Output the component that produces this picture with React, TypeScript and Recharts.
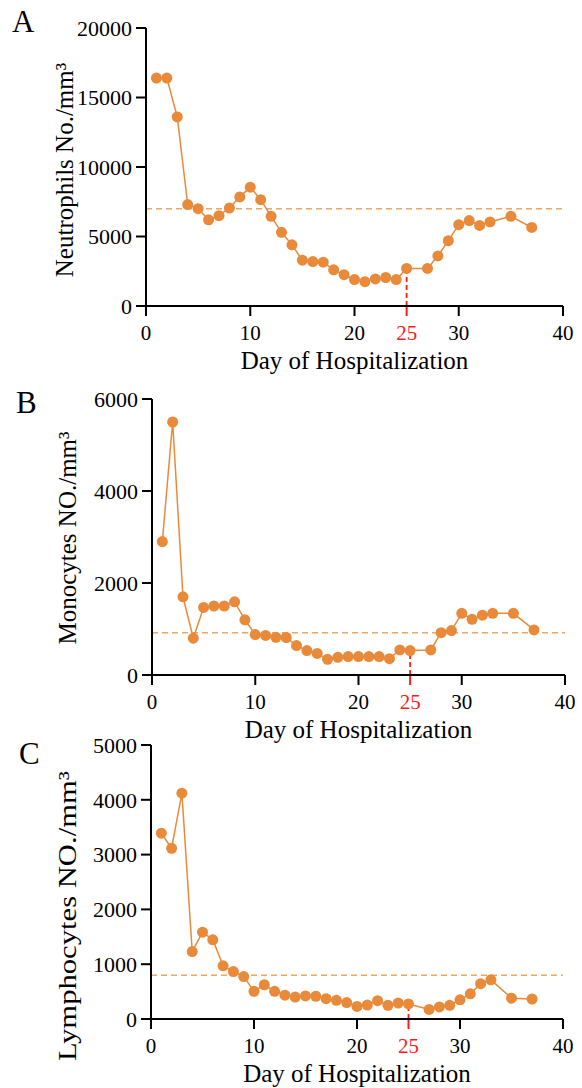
import React from 'react';
import {LineChart, Line, XAxis, YAxis, ReferenceLine} from 'recharts';

const days = [1, 2, 3, 4, 5, 6, 7, 8, 9, 10, 11, 12, 13, 14, 15, 16, 17, 18, 19, 20, 21, 22, 23, 24, 25, 27, 28, 29, 30, 31, 32, 33, 35, 37];

const neutrophils = [16400, 16400, 13600, 7300, 7000, 6200, 6500, 7050, 7850, 8550, 7650, 6450, 5300, 4400, 3300, 3200, 3150, 2600, 2250, 1900, 1750, 1950, 2050, 1900, 2700, 2700, 3600, 4700, 5850, 6150, 5800, 6050, 6450, 5650];
const monocytes = [2900, 5500, 1700, 800, 1470, 1500, 1500, 1590, 1200, 880, 860, 820, 815, 640, 530, 470, 340, 385, 400, 400, 400, 400, 355, 545, 530, 545, 920, 965, 1340, 1210, 1300, 1340, 1340, 980];
const lymphocytes = [3390, 3115, 4120, 1230, 1585, 1445, 970, 865, 775, 505, 625, 505, 435, 400, 420, 415, 370, 340, 300, 230, 255, 335, 250, 290, 275, 175, 220, 250, 350, 460, 645, 715, 380, 365];

const xTicks = [0, 10, 20, 25, 30, 40];
const neutroTicks = [0, 5000, 10000, 15000, 20000];
const monoTicks = [0, 2000, 4000, 6000];
const lymphoTicks = [0, 1000, 2000, 3000, 4000, 5000];

const MARK_DAY = 25;
const FONT = '"Liberation Serif", "Times New Roman", serif';
const ORANGE = '#E98A3A';
const DASH_ORANGE = '#F0A560';
const RED = '#FF1A1A';
const TICK = 10;
const TICK_GAP = 2;

const toRows = (values: number[]) => days.map((d, i) => ({day: d, value: values[i]}));

const XTick = (props: any) => {
    const {x, y, payload} = props;
    const axisY = y - TICK - TICK_GAP;
    const red = payload.value === MARK_DAY;
    return (
        <g>
            <line x1={x} x2={x} y1={axisY + (red ? 1 : 0)} y2={axisY + TICK} stroke={red ? RED : '#000'} strokeWidth={2}/>
            <text x={x} y={axisY + 34} textAnchor="middle" fontSize={21} fontFamily={FONT} fill={red ? RED : '#000'}>
                {payload.value}
            </text>
        </g>
    );
};

const YTitle = ({text, x, cy, length}: any) => (
    <text
        x={x}
        y={cy}
        transform={`rotate(-90 ${x} ${cy})`}
        textAnchor="middle"
        fontSize={25}
        fontFamily={FONT}
        fill="#000"
        textLength={length}
        lengthAdjust={length ? 'spacingAndGlyphs' : undefined}
    >
        {text}
    </text>
);

const XTitle = ({viewBox}: any) => (
    <text
        x={viewBox.x + viewBox.width / 2}
        y={viewBox.y + 63}
        textAnchor="middle"
        fontSize={25}
        fontFamily={FONT}
        fill="#000"
    >
        Day of Hospitalization
    </text>
);

type PanelProps = {
    top: number;
    height: number;
    plotLeft: number;
    plotRight: number;
    plotTop: number;
    plotBottom: number;
    values: number[];
    yTicks: number[];
    threshold: number;
    title: string;
    titleX: number;
    titleCy: number;
    titleLength?: number;
};

const Panel = (p: PanelProps) => {
    const rows = toRows(p.values);
    const markValue = rows.find((r) => r.day === MARK_DAY)?.value ?? 0;
    const yMax = p.yTicks[p.yTicks.length - 1];
    return (
        <div style={{position: 'absolute', left: 0, top: p.top}}>
            <LineChart
                width={582}
                height={p.height}
                data={rows}
                margin={{top: p.plotTop, right: 582 - p.plotRight, bottom: 0, left: 0}}
            >
                <XAxis
                    dataKey="day"
                    type="number"
                    domain={[0, 40]}
                    ticks={xTicks}
                    interval={0}
                    height={p.height - p.plotBottom}
                    axisLine={{stroke: '#000', strokeWidth: 2}}
                    tickLine={false}
                    tickSize={TICK}
                    tickMargin={TICK_GAP}
                    tick={<XTick/>}
                    label={<XTitle/>}
                />
                <YAxis
                    type="number"
                    domain={[0, yMax]}
                    ticks={p.yTicks}
                    interval={0}
                    width={p.plotLeft}
                    axisLine={{stroke: '#000', strokeWidth: 2}}
                    tickLine={{stroke: '#000', strokeWidth: 2}}
                    tickSize={TICK}
                    tickMargin={4}
                    tick={{fontSize: 22, fontFamily: FONT, fill: '#000'}}
                    label={<YTitle text={p.title} x={p.titleX} cy={p.titleCy} length={p.titleLength}/>}
                />
                <ReferenceLine y={p.threshold} stroke={DASH_ORANGE} strokeWidth={1.5} strokeDasharray="6 4"/>
                <ReferenceLine
                    segment={[{x: MARK_DAY, y: 0}, {x: MARK_DAY, y: markValue}]}
                    stroke={RED}
                    strokeWidth={1.8}
                    strokeDasharray="5 3"
                />
                <Line
                    type="linear"
                    dataKey="value"
                    stroke={ORANGE}
                    strokeWidth={1.5}
                    dot={{r: 5.5, fill: ORANGE, stroke: 'none'}}
                    activeDot={false}
                    isAnimationActive={false}
                />
            </LineChart>
        </div>
    );
};

const Letter = ({x, y, children}: any) => (
    <text x={x} y={y} fontSize={31} fontFamily={FONT} fill="#000">{children}</text>
);

export default function App() {
    return (
        <div style={{position: 'absolute', left: 0, top: 0, width: 582, height: 1088, background: '#fff'}}>
            <Panel
                top={0} height={380}
                plotLeft={146} plotRight={563} plotTop={28} plotBottom={306}
                values={neutrophils} yTicks={neutroTicks} threshold={7000}
                title="Neutrophils No./mm³" titleX={67} titleCy={170}
            />
            <Panel
                top={380} height={370}
                plotLeft={152} plotRight={565} plotTop={19} plotBottom={295}
                values={monocytes} yTicks={monoTicks} threshold={920}
                title="Monocytes NO./mm³" titleX={67} titleCy={158}
            />
            <Panel
                top={720} height={368}
                plotLeft={151} plotRight={563} plotTop={25} plotBottom={299}
                values={lymphocytes} yTicks={lymphoTicks} threshold={800}
                title="Lymphocytes NO./mm³" titleX={72} titleCy={196} titleLength={290}
            />
            <svg width={582} height={1088} style={{position: 'absolute', left: 0, top: 0, pointerEvents: 'none'}}>
                <Letter x={12} y={32}>A</Letter>
                <Letter x={16} y={413}>B</Letter>
                <Letter x={19} y={764}>C</Letter>
            </svg>
        </div>
    );
}
